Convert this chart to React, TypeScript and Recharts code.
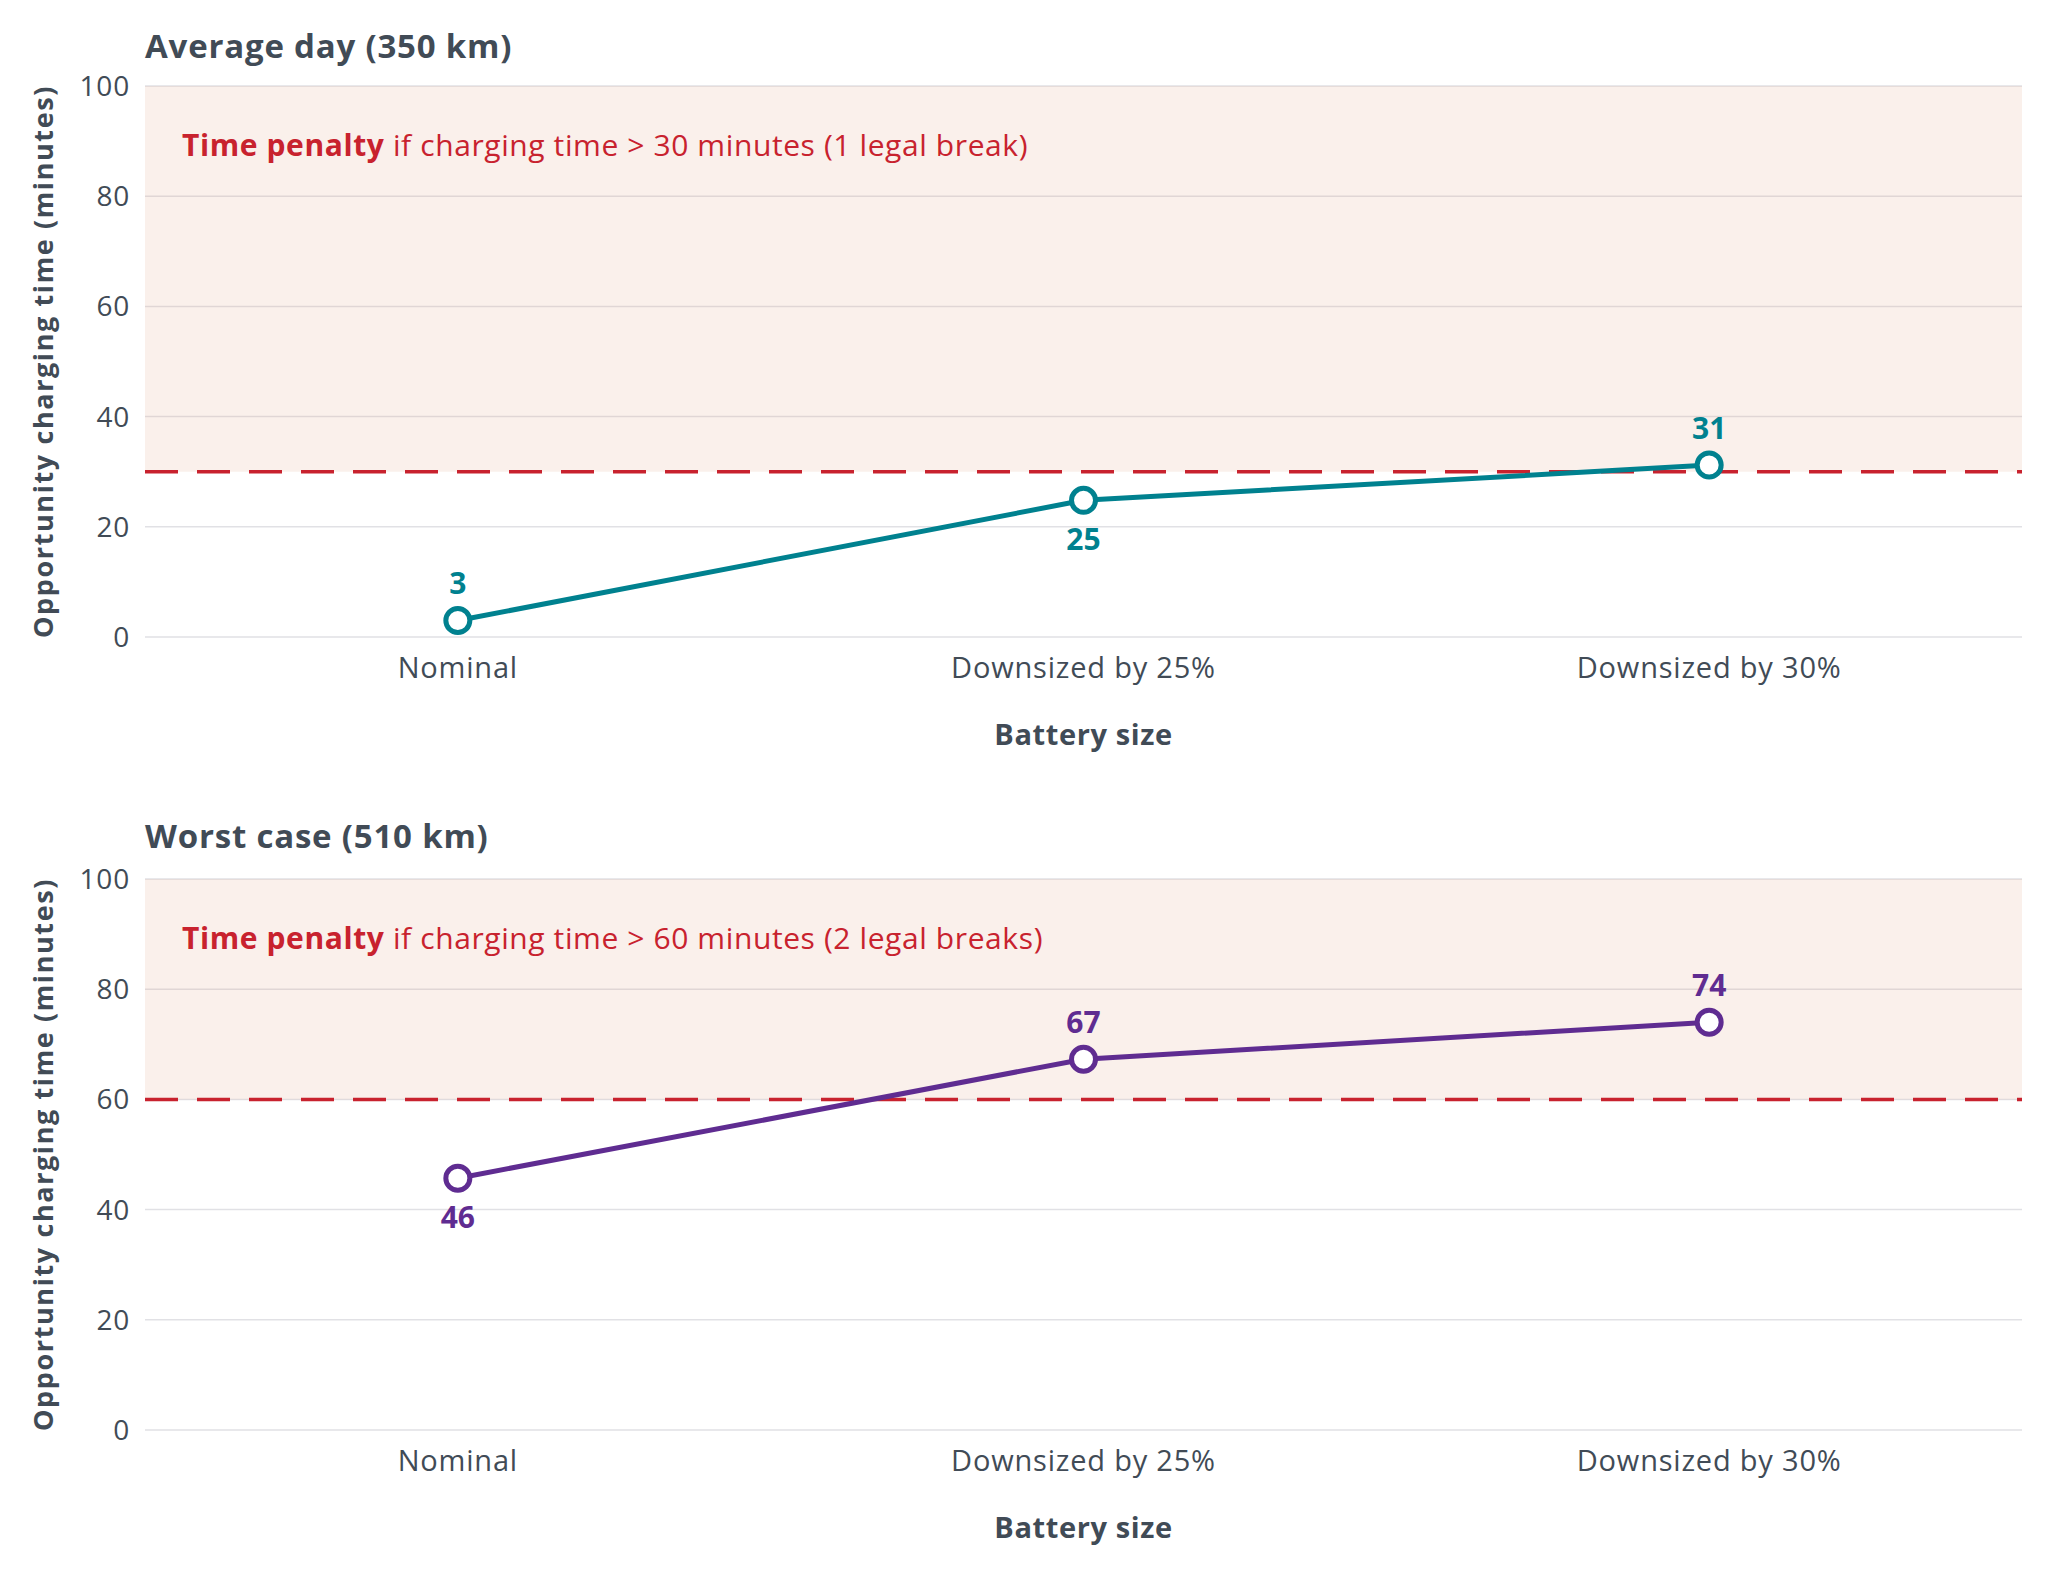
import { LineChart, Line, XAxis, YAxis, CartesianGrid, ReferenceArea, ReferenceLine, LabelList, Label } from "recharts";

const categories = ["Nominal", "Downsized by 25%", "Downsized by 30%"];
const averageDay = [3, 24.8, 31.2];
const worstCase = [45.7, 67.3, 74];
const averageLabels = [3, 25, 31];
const worstLabels = [46, 67, 74];
const averageSides = ["above", "below", "above"];
const worstSides = ["below", "above", "above"];
const yTicks = [0, 20, 40, 60, 80, 100];

const FONT = "'Open Sans', Lato, sans-serif";
const TEXT = "#414b56";
const RED = "#c8222e";

interface PanelProps {
  title: string;
  values: number[];
  labels: number[];
  sides: string[];
  color: string;
  threshold: number;
  penaltyText: string;
  height: number;
  top: number;
  titleY: number;
}

const Panel = ({ title, values, labels, sides, color, threshold, penaltyText, height, top, titleY }: PanelProps) => {
  const data = categories.map((name, i) => ({ name, value: values[i], label: labels[i] }));

  const renderPenalty = (props: any) => {
    const vb = props.viewBox || {};
    return (
      <text x={vb.x + 37} y={vb.y + 58} dominantBaseline="central" fontSize={30} letterSpacing={0.6} fontFamily={FONT} fill={RED}>
        <tspan fontWeight={700}>Time penalty</tspan>
        <tspan> {penaltyText}</tspan>
      </text>
    );
  };

  const renderValue = (props: any) => {
    const { x, y, index } = props;
    const dy = sides[index] === "above" ? -38 : 38;
    return (
      <text x={x} y={y + dy} textAnchor="middle" dominantBaseline="central" fontSize={30} fontWeight={700} fontFamily={FONT} fill={color}>
        {data[index].label}
      </text>
    );
  };

  return (
    <div style={{ position: "relative", width: 2032, height }}>
      <div style={{ position: "absolute", left: 137, top: titleY - 20, fontFamily: FONT, fontWeight: 700, fontSize: 33, letterSpacing: 0.8, color: TEXT, lineHeight: "40px" }}>
        {title}
      </div>
      <LineChart width={2032} height={height} data={data} margin={{ top, right: 18, bottom: 0, left: 0 }}>
        <ReferenceArea y1={threshold} y2={100} fill="#de9b7a" fillOpacity={0.15} stroke="none" label={renderPenalty} />
        <CartesianGrid vertical={false} stroke="#e1e1e5" strokeWidth={1.5} />
        <ReferenceLine y={threshold} stroke={RED} strokeWidth={3.5} strokeDasharray="33 19" />
        <XAxis
          dataKey="name"
          scale="band"
          axisLine={false}
          tickLine={false}
          tickSize={0}
          tickMargin={20}
          height={height - top - 551}
          tick={{ fontSize: 29, letterSpacing: 0.8, fontFamily: FONT, fill: TEXT }}
        >
          <Label
            content={(p: any) => {
              const vb = p.viewBox || {};
              return (
                <text x={vb.x + vb.width / 2} y={vb.y + 96} textAnchor="middle" dominantBaseline="central" fontSize={29} letterSpacing={0.6} fontWeight={700} fontFamily={FONT} fill={TEXT}>
                  Battery size
                </text>
              );
            }}
          />
        </XAxis>
        <YAxis
          domain={[0, 100]}
          ticks={yTicks}
          axisLine={false}
          tickLine={false}
          tickSize={0}
          tickMargin={15}
          width={137}
          tick={{ fontSize: 28, letterSpacing: 0.8, fontFamily: FONT, fill: TEXT }}
        >
          <Label
            content={(p: any) => {
              const vb = p.viewBox || {};
              const cy = vb.y + vb.height / 2;
              return (
                <text x={34} y={cy} transform={`rotate(-90, 34, ${cy})`} textAnchor="middle" dominantBaseline="central" fontSize={27} fontWeight={700} letterSpacing={1.6} fontFamily={FONT} fill={TEXT}>
                  Opportunity charging time (minutes)
                </text>
              );
            }}
          />
        </YAxis>
        <Line
          dataKey="value"
          stroke={color}
          strokeWidth={5}
          dot={{ r: 12, fill: "#fff", stroke: color, strokeWidth: 5 }}
          activeDot={false}
          isAnimationActive={false}
        >
          <LabelList dataKey="label" content={renderValue} />
        </Line>
      </LineChart>
    </div>
  );
};

export default function App() {
  return (
    <div style={{ width: 2032, background: "#fff" }}>
      <Panel
        title="Average day (350 km)"
        values={averageDay}
        labels={averageLabels}
        sides={averageSides}
        color="#00818f"
        threshold={30}
        penaltyText="if charging time > 30 minutes (1 legal break)"
        height={792}
        top={78}
        titleY={38}
      />
      <Panel
        title="Worst case (510 km)"
        values={worstCase}
        labels={worstLabels}
        sides={worstSides}
        color="#5f2c91"
        threshold={60}
        penaltyText="if charging time > 60 minutes (2 legal breaks)"
        height={760}
        top={79}
        titleY={36}
      />
    </div>
  );
}
